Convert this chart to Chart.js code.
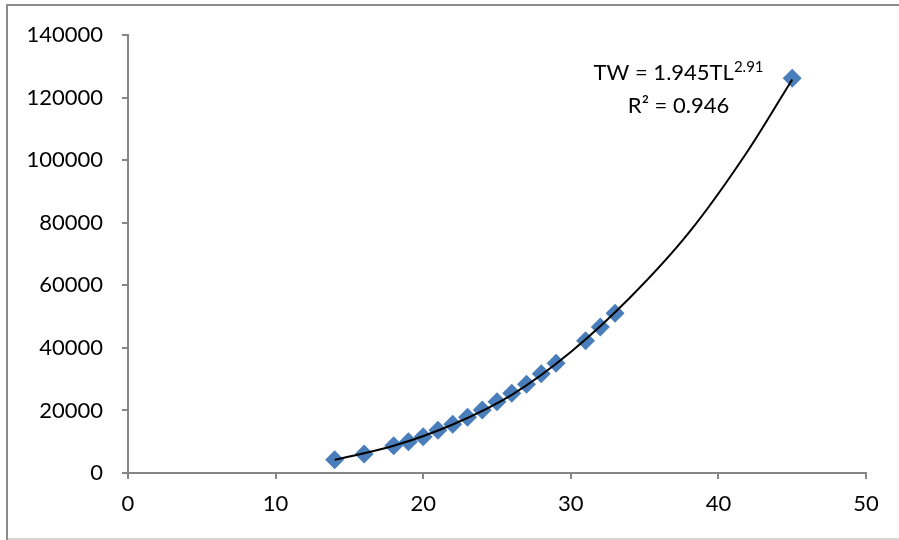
<!DOCTYPE html>
<html>
<head>
<meta charset="utf-8">
<script src="https://cdn.jsdelivr.net/npm/chart.js@4"></script>
<style>
  html, body { margin: 0; padding: 0; background: #fff; }
  #wrap { position: relative; width: 899px; height: 540px; }
</style>
</head>
<body>
<div id="wrap"><canvas id="c" width="899" height="540"></canvas></div>
<script>
// Observed data (total length TL vs total weight TW)
const lengths = [14, 16, 18, 19, 20, 21, 22, 23, 24, 25, 26, 27, 28, 29, 31, 32, 33, 45];
const weights = [4200, 6100, 8700, 10000, 11600, 13700, 15600, 17800, 20100, 22800, 25500, 28400, 31700, 35100, 42300, 46700, 51100, 126200];

// Power trend line values
const trendX = [14, 18, 22, 26, 30, 34, 38, 42, 45];
const trendY = [4200, 8700, 15500, 25000, 38700, 56000, 76800, 103000, 125800];

const xTicks = [0, 10, 20, 30, 40, 50];
const yTicks = [0, 20000, 40000, 60000, 80000, 100000, 120000, 140000];

const equationMain = 'TW = 1.945TL';
const equationSup = '2.91';
const rSquared = 'R² = 0.946';

const FONT = 'Lato, "Open Sans", sans-serif';
const AXIS = '#868686';

const framePlugin = {
  id: 'frame',
  beforeDraw(chart) {
    const ctx = chart.ctx;
    ctx.save();
    ctx.fillStyle = '#fff';
    ctx.fillRect(0, 0, chart.width, chart.height);
    ctx.fillStyle = '#8c8c8c';
    ctx.fillRect(6, 4, chart.width - 6, 2);   // top edge
    ctx.fillRect(6, 4, 2, chart.height - 4);  // left edge
    ctx.fillStyle = '#d4d4d4';
    ctx.fillRect(8, 538, chart.width - 8, 2); // bottom edge
    ctx.restore();
  }
};

const labelPlugin = {
  id: 'eqLabel',
  afterDatasetsDraw(chart) {
    const ctx = chart.ctx;
    const xs = chart.scales.x, ys = chart.scales.y;
    const cx = xs.getPixelForValue(37.3);
    const b1 = ys.getPixelForValue(125600);
    const b2 = ys.getPixelForValue(115100);
    ctx.save();
    ctx.fillStyle = '#000';
    ctx.textBaseline = 'alphabetic';
    ctx.textAlign = 'left';
    ctx.font = '22px ' + FONT;
    const w1 = ctx.measureText(equationMain).width;
    ctx.font = '15px ' + FONT;
    const w2 = ctx.measureText(equationSup).width;
    const start = cx - (w1 + w2) / 2;
    ctx.font = '22px ' + FONT;
    ctx.fillText(equationMain, start, b1);
    ctx.font = '15px ' + FONT;
    ctx.fillText(equationSup, start + w1, b1 - 8);
    ctx.font = '22px ' + FONT;
    ctx.textAlign = 'center';
    ctx.fillText(rSquared, cx, b2);
    ctx.restore();
  }
};

new Chart(document.getElementById('c'), {
  type: 'scatter',
  data: {
    datasets: [
      {
        label: 'Trend',
        type: 'line',
        data: trendX.map((x, i) => ({ x, y: trendY[i] })),
        borderColor: '#000',
        borderWidth: 2,
        pointRadius: 0,
        fill: false,
        cubicInterpolationMode: 'monotone',
        order: 0
      },
      {
        label: 'TW',
        data: lengths.map((x, i) => ({ x, y: weights[i] })),
        pointStyle: 'rectRot',
        pointRadius: 9.5,
        pointHoverRadius: 9.5,
        backgroundColor: '#4A7EBB',
        borderColor: '#4A7EBB',
        borderWidth: 0,
        order: 1
      }
    ]
  },
  options: {
    responsive: false,
    animation: false,
    events: [],
    layout: { padding: { top: 35, right: 33, left: 0, bottom: 0 } },
    plugins: { legend: { display: false }, tooltip: { enabled: false } },
    scales: {
      x: {
        type: 'linear',
        min: 0, max: 50,
        afterBuildTicks(s) { s.ticks = xTicks.map(v => ({ value: v })); },
        afterFit(s) { s.height = 67; },
        border: { color: AXIS, width: 2 },
        grid: { display: true, drawOnChartArea: false, drawTicks: true, tickLength: 6, color: AXIS, lineWidth: 2 },
        ticks: { color: '#000', font: { family: FONT, size: 22 }, padding: 12, maxRotation: 0 }
      },
      y: {
        type: 'linear',
        min: 0, max: 140000,
        afterBuildTicks(s) { s.ticks = yTicks.map(v => ({ value: v })); },
        afterFit(s) { s.width = 128; },
        border: { color: AXIS, width: 2 },
        grid: { display: true, drawOnChartArea: false, drawTicks: true, tickLength: 6, color: AXIS, lineWidth: 2 },
        ticks: { color: '#000', font: { family: FONT, size: 22 }, padding: 19, callback: v => String(v) }
      }
    }
  },
  plugins: [framePlugin, labelPlugin]
});
</script>
</body>
</html>
